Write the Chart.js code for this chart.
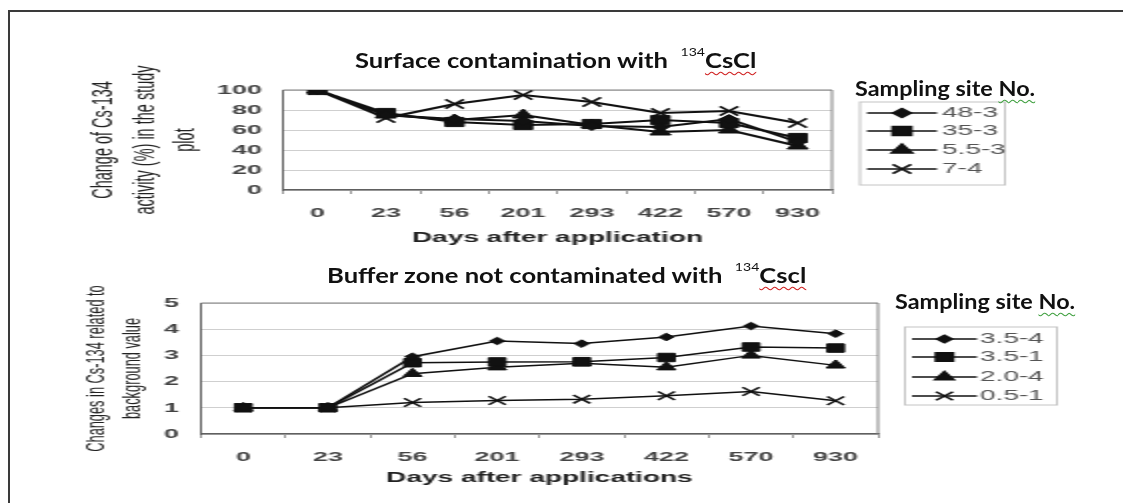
<!DOCTYPE html>
<html>
<head>
<meta charset="utf-8">
<title>Cs-134 activity after application</title>
<script src="https://cdn.jsdelivr.net/npm/chart.js"></script>
<style>
  body { margin: 0; background: #fff; }
  #page { position: relative; width: 1123px; height: 503px; overflow: hidden; background: #fff; }
  #frame { position: absolute; left: 8px; top: 10px; width: 1200px; height: 600px; border: 2px solid #3a3a3a; }
  /* the excel charts in the figure are stretched sideways, so draw them at half width */
  .stretch { position: absolute; left: 0; width: 562px; transform: scaleX(2); transform-origin: 0 0; }
  .label { position: absolute; font-family: Lato, "Open Sans", sans-serif; font-weight: bold; font-size: 20px;
           line-height: 20px; color: #111; white-space: nowrap; transform: scaleX(1.28); transform-origin: 0 50%; }
  .label.legend-title { transform: scaleX(1.17); }
  .label sup { font-size: 11px; font-weight: normal; vertical-align: 0; position: relative; top: -12px; }
  .red { text-decoration: underline wavy #d02020; text-decoration-thickness: 1px; text-underline-offset: 3px; }
  .green { text-decoration: underline wavy #40a040; text-decoration-thickness: 1px; text-underline-offset: 3px; }
</style>
</head>
<body>
<div id="page">
  <div id="frame"></div>
  <div class="stretch" style="top:0; height:250px;"><canvas id="surface"></canvas></div>
  <div class="stretch" style="top:250px; height:253px;"><canvas id="buffer"></canvas></div>

  <div class="label" style="left:355px; top:50px;">Surface contamination with&nbsp;&nbsp;<sup>134</sup><span class="red">CsCl</span></div>
  <div class="label legend-title" style="left:855px; top:78px;">Sampling site <span class="green">No.</span></div>
  <div class="label" style="left:327px; top:265px;">Buffer zone not contaminated with&nbsp;&nbsp;<sup>134</sup><span class="red">Cscl</span></div>
  <div class="label legend-title" style="left:895px; top:291px;">Sampling site <span class="green">No.</span></div>
</div>

<script>
  const days = ['0', '23', '56', '201', '293', '422', '570', '930'];

  // surface plot, % of the initial Cs-134 activity
  const surfaceSites = ['48-3', '35-3', '5.5-3', '7-4'];
  const site48_3 = [100, 75, 71, 69, 64, 63, 71, 48];
  const site35_3 = [100, 77, 68, 65, 66, 70, 67, 52];
  const site5_5_3 = [100, 75, 70, 75, 65, 58, 60, 44];
  const site7_4 = [100, 72, 86, 95, 88, 77, 79, 67];

  // buffer zone, ratio to background
  const bufferSites = ['3.5-4', '3.5-1', '2.0-4', '0.5-1'];
  const site3_5_4 = [1, 1, 2.95, 3.55, 3.45, 3.7, 4.12, 3.83];
  const site3_5_1 = [1, 1, 2.72, 2.75, 2.76, 2.92, 3.32, 3.28];
  const site2_0_4 = [1, 1, 2.3, 2.55, 2.7, 2.55, 3.0, 2.62];
  const site0_5_1 = [1, 1, 1.2, 1.28, 1.33, 1.46, 1.62, 1.27];

  const markers = ['rectRot', 'rect', 'triangle', 'crossRot'];
  const family = '"Liberation Sans", Arial, sans-serif';
  const tickFont = { family: family, size: 13.5, weight: 'bold' };

  // grey frame on top and right of the plot area
  const plotBox = {
    id: 'plotBox',
    beforeDatasetsDraw(chart) {
      const { ctx, chartArea: a } = chart;
      ctx.save();
      ctx.strokeStyle = '#808080';
      ctx.lineWidth = 1;
      ctx.beginPath();
      ctx.moveTo(a.left, a.top);
      ctx.lineTo(a.right, a.top);
      ctx.lineTo(a.right, a.bottom);
      ctx.stroke();
      ctx.restore();
    }
  };

  // excel style legend: line with marker, inside a thin box
  const siteLegend = {
    id: 'siteLegend',
    afterDraw(chart, args, opts) {
      const ctx = chart.ctx;
      ctx.save();
      ctx.strokeStyle = '#c4c4c4';
      ctx.lineWidth = 1;
      ctx.strokeRect(opts.left, opts.top, opts.right - opts.left, opts.bottom - opts.top);
      chart.data.datasets.forEach((ds, i) => {
        const y = opts.rows[i];
        ctx.strokeStyle = '#111';
        ctx.lineWidth = 1.5;
        ctx.beginPath();
        ctx.moveTo(opts.lineFrom, y);
        ctx.lineTo(opts.lineTo, y);
        ctx.stroke();
        ctx.fillStyle = '#111';
        Chart.helpers.drawPoint(ctx, {
          pointStyle: ds.pointStyle, radius: ds.pointRadius,
          borderWidth: ds.pointBorderWidth, rotation: 0
        }, (opts.lineFrom + opts.lineTo) / 2, y);
        ctx.fillStyle = '#555';
        ctx.font = '14px ' + family;
        ctx.textAlign = 'left';
        ctx.textBaseline = 'middle';
        ctx.fillText(ds.label, opts.textX, y);
      });
      ctx.restore();
    }
  };

  function siteChart(id, sites, series, opt) {
    const datasets = series.map((values, i) => ({
      label: sites[i],
      data: values,
      borderColor: '#111',
      backgroundColor: '#111',
      pointBackgroundColor: '#111',
      pointBorderColor: '#111',
      borderWidth: opt.lineWidth,
      pointStyle: markers[i],
      pointRadius: opt.radius[i],
      pointBorderWidth: markers[i] === 'crossRot' ? 1.5 : 1,
      tension: 0,
      fill: false
    }));

    return new Chart(document.getElementById(id), {
      type: 'line',
      data: { labels: days, datasets: datasets },
      options: {
        responsive: true,
        maintainAspectRatio: false,
        animation: false,
        layout: { padding: opt.padding },
        plugins: {
          legend: { display: false },
          title: { display: false },
          tooltip: { enabled: false },
          siteLegend: opt.legend
        },
        scales: {
          x: {
            offset: true,
            grid: { offset: true, drawOnChartArea: false, tickLength: 4, color: '#999' },
            border: { color: '#606060', width: 1.5 },
            ticks: { padding: opt.xPad, color: '#444', font: tickFont },
            title: {
              display: true, text: opt.xTitle, color: '#222',
              font: { family: family, size: 14, weight: 'bold' },
              padding: { top: 0, bottom: opt.xTitlePad }
            },
            afterFit: s => { s.height = opt.xHeight; }
          },
          y: {
            min: 0,
            max: opt.max,
            ticks: { stepSize: opt.step, padding: opt.yPad, color: '#444', font: tickFont },
            grid: { color: '#cfcfcf', drawTicks: false },
            border: { color: '#606060', width: 1 },
            title: {
              display: true, text: opt.yTitle, color: '#222',
              font: { family: family, size: opt.yTitleSize, lineHeight: opt.yTitleLine },
              padding: { top: opt.yTitlePad, bottom: 0 }
            },
            afterFit: s => { s.width = opt.yWidth; }
          }
        }
      },
      plugins: [plotBox, siteLegend]
    });
  }

  siteChart('surface', surfaceSites, [site48_3, site35_3, site5_5_3, site7_4], {
    padding: { left: 40, right: 146, top: 90, bottom: 0 },
    yWidth: 101.5, xHeight: 60,
    max: 100, step: 20,
    lineWidth: 2, radius: [4.5, 6.5, 6, 6.5],
    xPad: 11, yPad: 10.5,
    xTitle: 'Days after application', xTitlePad: 3.6,
    yTitle: ['Change of Cs-134', 'activity (%) in the study', 'plot'],
    yTitleSize: 14.5, yTitleLine: '20.5px', yTitlePad: 1.75,
    legend: { left: 430, right: 502.5, top: 102, bottom: 185, rows: [113, 131, 150, 169],
              lineFrom: 433.5, lineTo: 468.5, textX: 471 }
  });

  siteChart('buffer', bufferSites, [site3_5_4, site3_5_1, site2_0_4, site0_5_1], {
    padding: { left: 38, right: 123, top: 53, bottom: 0 },
    yWidth: 62.5, xHeight: 69,
    max: 5, step: 1,
    lineWidth: 1.5, radius: [3.8, 6, 5.4, 6],
    xPad: 11, yPad: 11,
    xTitle: 'Days after applications', xTitlePad: 16.6,
    yTitle: ['Changes in Cs-134 related to', 'background value'],
    yTitleSize: 12.8, yTitleLine: '18px', yTitlePad: 1,
    legend: { left: 452.5, right: 528.5, top: 77, bottom: 155, rows: [89, 107, 127, 146],
              lineFrom: 456, lineTo: 488.5, textX: 490 }
  });
</script>
</body>
</html>
